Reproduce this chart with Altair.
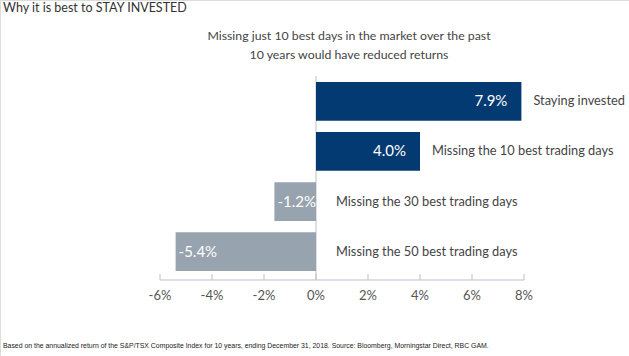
import altair as alt
import pandas as pd

# ---- data ----
categories = [
    "Staying invested",
    "Missing the 10 best trading days",
    "Missing the 30 best trading days",
    "Missing the 50 best trading days",
]
value_labels = ["7.9%", "4.0%", "-1.2%", "-5.4%"]
# bar lengths as drawn in the reference
bar_values = [7.9, 4.0, -1.6, -5.4]
bar_colors = ["#043a72", "#043a72", "#97a3ae", "#97a3ae"]
tick_values = [-6, -4, -2, 0, 2, 4, 6, 8]
tick_labels = ["-6%", "-4%", "-2%", "0%", "2%", "4%", "6%", "8%"]

title_text = "Why it is best to STAY INVESTED"
subtitle_lines = [
    "Missing just 10 best days in the market over the past",
    "10 years would have reduced returns",
]
footnote_text = ("Based on the annualized return of the S&P/TSX Composite Index for 10 years, "
                 "ending December 31, 2018. Source: Bloomberg, Morningstar Direct, RBC GAM.")

FONT = "Lato"

df = pd.DataFrame({
    "category": categories,
    "value": bar_values,
    "label": value_labels,
    "color": bar_colors,
})
ticks_df = pd.DataFrame({"tick": tick_values, "tick_label": tick_labels})

xscale = alt.Scale(domain=[-6, 8], range=[160, 524], nice=False, zero=False)
yscale = alt.Scale(domain=categories, range=[82, 271], paddingInner=0.225, paddingOuter=0)

base = alt.Chart(df)

zero_line = alt.Chart(pd.DataFrame({"z": [0]})).mark_rule(color="#b9c1c8", strokeWidth=1).encode(
    x=alt.X("z:Q", scale=xscale, axis=None),
    y=alt.value(76),
    y2=alt.value(280),
)

bars = base.mark_bar().encode(
    x=alt.X("value:Q", scale=xscale, axis=None),
    x2=alt.datum(0),
    y=alt.Y("category:N", scale=yscale, axis=None, sort=categories),
    color=alt.Color("color:N", scale=None),
)

pos_vals = base.transform_filter("datum.value > 0").mark_text(
    align="right", baseline="middle", dx=-14, color="white", font=FONT, fontSize=15
).encode(
    x=alt.X("value:Q", scale=xscale, axis=None),
    y=alt.Y("category:N", scale=yscale, axis=None, sort=categories),
    text="label:N",
)

neg_vals = base.transform_filter("datum.value < 0").mark_text(
    align="left", baseline="middle", dx=3, color="white", font=FONT, fontSize=15
).encode(
    x=alt.X("value:Q", scale=xscale, axis=None),
    y=alt.Y("category:N", scale=yscale, axis=None, sort=categories),
    text="label:N",
)

pos_cats = base.transform_filter("datum.value > 0").mark_text(
    align="left", baseline="middle", dx=12, color="#444444", font=FONT, fontSize=12.8
).encode(
    x=alt.X("value:Q", scale=xscale, axis=None),
    y=alt.Y("category:N", scale=yscale, axis=None, sort=categories),
    text="category:N",
)

neg_cats = base.transform_filter("datum.value < 0").mark_text(
    align="left", baseline="middle", dx=20, color="#444444", font=FONT, fontSize=12.8
).encode(
    x=alt.X("zero:Q", scale=xscale, axis=None),
    y=alt.Y("category:N", scale=yscale, axis=None, sort=categories),
    text="category:N",
).transform_calculate(zero="0")

axis_line = alt.Chart(pd.DataFrame({"a": [tick_values[0]], "b": [tick_values[-1]]})).mark_rule(
    color="#b9c1c8", strokeWidth=1
).encode(
    x=alt.X("a:Q", scale=xscale, axis=None),
    x2="b:Q",
    y=alt.value(280),
)

tick_marks = alt.Chart(ticks_df).mark_rule(color="#b9c1c8", strokeWidth=1).encode(
    x=alt.X("tick:Q", scale=xscale, axis=None),
    y=alt.value(274),
    y2=alt.value(280),
)

tick_text = alt.Chart(ticks_df).mark_text(
    baseline="middle", align="center", color="#555555", font=FONT, fontSize=13
).encode(
    x=alt.X("tick:Q", scale=xscale, axis=None),
    y=alt.value(296),
    text="tick_label:N",
)

title = alt.Chart(pd.DataFrame({"t": [title_text]})).mark_text(
    align="left", baseline="middle", color="#333333", font=FONT, fontSize=12.5
).encode(x=alt.value(3), y=alt.value(8), text="t:N")

sub1 = alt.Chart(pd.DataFrame({"t": [subtitle_lines[0]]})).mark_text(
    align="center", baseline="middle", color="#444444", font=FONT, fontSize=12.3
).encode(x=alt.value(349), y=alt.value(36), text="t:N")

sub2 = alt.Chart(pd.DataFrame({"t": [subtitle_lines[1]]})).mark_text(
    align="center", baseline="middle", color="#444444", font=FONT, fontSize=12.3
).encode(x=alt.value(349), y=alt.value(55), text="t:N")

foot = alt.Chart(pd.DataFrame({"t": [footnote_text]})).mark_text(
    align="left", baseline="middle", color="#222222", font="Liberation Sans", fontSize=6.9
).encode(x=alt.value(3), y=alt.value(346), text="t:N")

chart = alt.layer(
    zero_line, bars, pos_vals, neg_vals, pos_cats, neg_cats,
    axis_line, tick_marks, tick_text, title, sub1, sub2, foot,
).properties(
    width=629, height=356,
    autosize=alt.AutoSizeParams(type="none"),
    padding=0,
).configure_view(stroke=None).configure(background="white")

chart.save("out.html", embed_options={"renderer": "svg", "actions": False})
